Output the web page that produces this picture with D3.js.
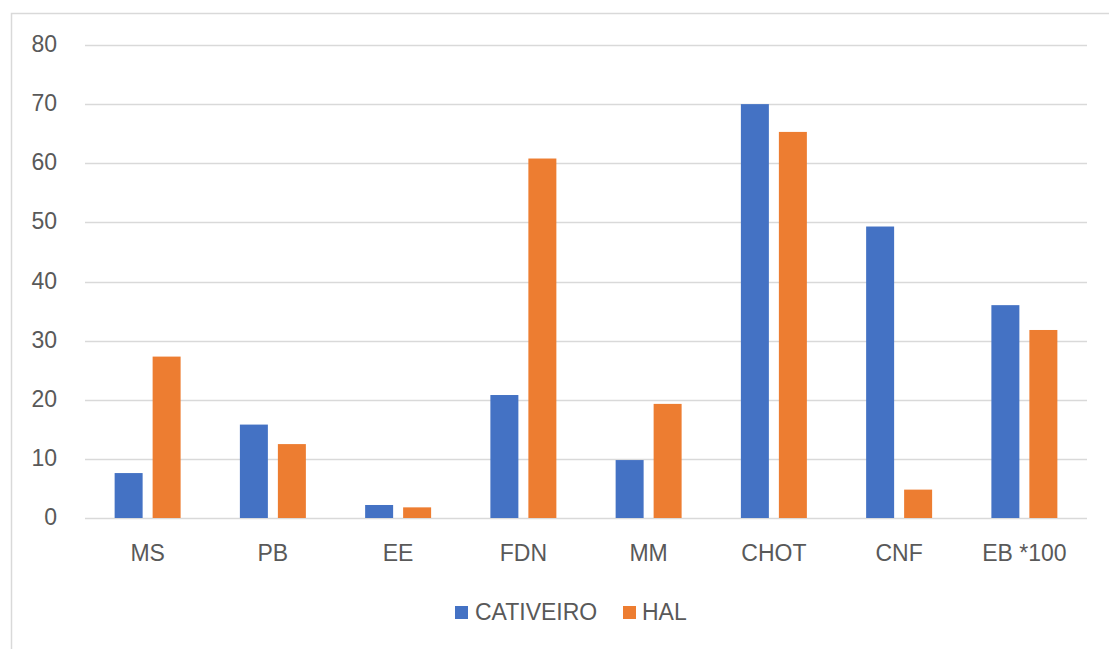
<!DOCTYPE html>
<html>
<head>
<meta charset="utf-8">
<script src="https://cdn.jsdelivr.net/npm/d3@7"></script>
<style>
  html, body { margin: 0; padding: 0; background: #ffffff; }
  svg { display: block; }
  text { font-family: "Liberation Sans Narrow", "Arial Narrow", "Liberation Sans", sans-serif; fill: #595959; }
</style>
</head>
<body>
<script>
const categories = ["MS", "PB", "EE", "FDN", "MM", "CHOT", "CNF", "EB *100"];
const seriesNames = ["CATIVEIRO", "HAL"];
const cativeiro = [7.6, 15.8, 2.2, 20.8, 9.8, 70.0, 49.3, 36.0];
const hal = [27.3, 12.5, 1.8, 60.8, 19.3, 65.3, 4.8, 31.8];
const yTicks = [0, 10, 20, 30, 40, 50, 60, 70, 80];
const colors = ["#4472C4", "#ED7D31"];

const W = 1109, H = 649;
const svg = d3.select("body").append("svg").attr("width", W).attr("height", H);

// chart border
svg.append("rect").attr("x", 11.5).attr("y", 13.5).attr("width", 1110).attr("height", 660)
  .attr("fill", "none").attr("stroke", "#d9d9d9").attr("stroke-width", 1.5);

const plotLeft = 85, plotRight = 1087, plotTop = 45, plotBottom = 518;
const fontSize = 23;

const x0 = d3.scaleBand().domain(categories).range([plotLeft, plotRight]).paddingInner(0).paddingOuter(0);
const x1 = d3.scaleBand().domain(seriesNames).range([0, x0.bandwidth()])
  .paddingInner(10 / 38).paddingOuter(0.78);
const y = d3.scaleLinear().domain([0, 80]).range([plotBottom, plotTop]);

// gridlines
svg.append("g").selectAll("line").data(yTicks).join("line")
  .attr("x1", plotLeft).attr("x2", plotRight)
  .attr("y1", d => Math.round(y(d)) + 0.5).attr("y2", d => Math.round(y(d)) + 0.5)
  .attr("stroke", "#d9d9d9").attr("stroke-width", 1.3);

// y tick labels
svg.append("g").selectAll("text").data(yTicks).join("text")
  .attr("x", 57).attr("y", d => y(d) + 7)
  .attr("text-anchor", "end").attr("font-size", fontSize)
  .text(d => d);

// bars
const seriesData = [cativeiro, hal];
const groups = svg.append("g").selectAll("g").data(categories).join("g")
  .attr("transform", d => `translate(${x0(d)},0)`);
groups.selectAll("rect").data((c, i) => seriesNames.map((s, k) => ({ s, k, v: seriesData[k][i] })))
  .join("rect")
  .attr("x", d => x1(d.s)).attr("width", x1.bandwidth())
  .attr("y", d => y(d.v)).attr("height", d => y(0) - y(d.v))
  .attr("fill", d => colors[d.k]);

// x labels
svg.append("g").selectAll("text").data(categories).join("text")
  .attr("x", d => x0(d) + x0.bandwidth() / 2).attr("y", 561)
  .attr("text-anchor", "middle").attr("font-size", fontSize)
  .text(d => d);

// legend
const legendItems = [
  { name: seriesNames[0], color: colors[0], sx: 455, tx: 475 },
  { name: seriesNames[1], color: colors[1], sx: 623, tx: 642 }
];
const lg = svg.append("g");
lg.selectAll("rect").data(legendItems).join("rect")
  .attr("x", d => d.sx).attr("y", 606).attr("width", 13).attr("height", 13)
  .attr("fill", d => d.color);
lg.selectAll("text").data(legendItems).join("text")
  .attr("x", d => d.tx).attr("y", 620).attr("font-size", fontSize)
  .text(d => d.name);
</script>
</body>
</html>
